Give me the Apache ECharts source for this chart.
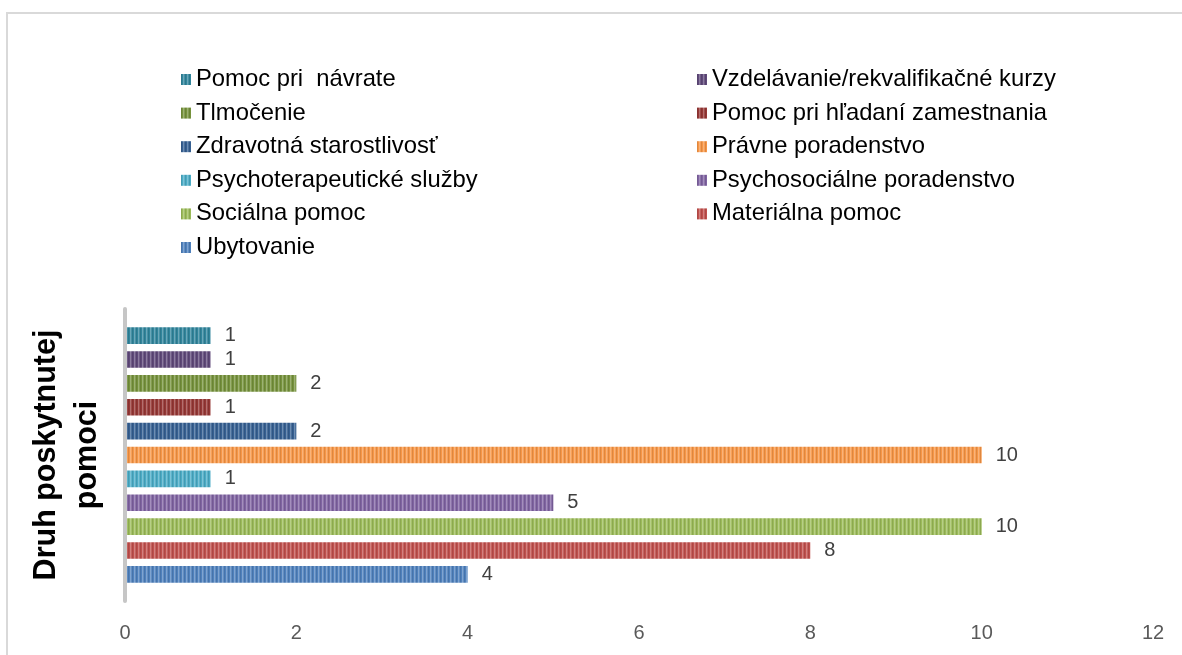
<!DOCTYPE html>
<html>
<head>
<meta charset="utf-8">
<script src="https://cdn.jsdelivr.net/npm/echarts@6/dist/echarts.min.js"></script>
<style>html,body{margin:0;padding:0;background:#fff}#c{width:1182px;height:655px}</style>
</head>
<body>
<div id="c"></div>
<script>
// Data (bottom to top)
const seriesNames = ['Ubytovanie','Materiálna pomoc','Sociálna pomoc','Psychosociálne poradenstvo','Psychoterapeutické služby','Právne poradenstvo','Zdravotná starostlivosť','Pomoc pri hľadaní zamestnania','Tlmočenie','Vzdelávanie/rekvalifikačné kurzy','Pomoc pri  návrate'];
const values = [4, 8, 10, 5, 1, 10, 2, 1, 2, 1, 1];
const categoryLabel = ['Druh poskytnutej pomoci'];
const xTicks = [0, 2, 4, 6, 8, 10, 12];
const legendLeft = ['Pomoc pri  návrate','Tlmočenie','Zdravotná starostlivosť','Psychoterapeutické služby','Sociálna pomoc','Ubytovanie'];
const legendRight = ['Vzdelávanie/rekvalifikačné kurzy','Pomoc pri hľadaní zamestnania','Právne poradenstvo','Psychosociálne poradenstvo','Materiálna pomoc'];
const colors = ['#4F81BD','#C0504D','#9BBB59','#8064A2','#4BACC6','#F79646','#366092','#953735','#76923C','#5F497A','#31859C'];

function mix(hex, target, t){
  const n = parseInt(hex.slice(1),16);
  const r=(n>>16)&255,g=(n>>8)&255,b=n&255;
  const m = c => Math.round(c + (target - c)*t);
  return 'rgb(' + m(r) + ',' + m(g) + ',' + m(b) + ')';
}
function pattern(hex){
  const cv = document.createElement('canvas');
  cv.width = 4; cv.height = 1;
  const ctx = cv.getContext('2d');
  const cols = [mix(hex,0,0.10), hex, mix(hex,255,0.28), mix(hex,255,0.10)];
  cols.forEach((c,i)=>{ctx.fillStyle=c;ctx.fillRect(i,0,1,1);});
  return {image: cv, repeat: 'repeat'};
}

const FONT = "'Liberation Sans', Arial, sans-serif";
const chart = echarts.init(document.getElementById('c'), null, {renderer:'canvas'});
const legendCommon = {
  orient: 'vertical', top: 62.5, itemWidth: 10, itemHeight: 11, itemGap: 9.6, icon: 'rect',
  textStyle: {fontFamily: FONT, fontSize: 23.8, color: '#000', lineHeight: 24}
};
// build series top-first so that ECharts places them as in the reference
const order = seriesNames.map((_, i) => i).reverse();
chart.setOption({
  animation: false,
  backgroundColor: '#fff',
  graphic: [{type:'rect', shape:{x:7, y:13, width:1300, height:800}, style:{fill:'none', stroke:'#d9d9d9', lineWidth:2}, z: -1}],
  legend: [
    Object.assign({left: 176, data: legendLeft}, legendCommon),
    Object.assign({left: 692, data: legendRight}, legendCommon)
  ],
  grid: {left: 125, right: 29, top: 309, bottom: 54, containLabel: false},
  xAxis: {
    type: 'value', min: xTicks[0], max: xTicks[xTicks.length-1], interval: 2,
    splitLine: {show: false}, axisLine: {show: false}, axisTick: {show: false},
    axisLabel: {fontFamily: FONT, fontSize: 20, color: '#595959', margin: 22}
  },
  yAxis: {
    type: 'category', data: categoryLabel, z: 5,
    axisLine: {show: true, lineStyle: {color: '#c6c6c6', width: 4}},
    axisTick: {show: false}, axisLabel: {show: false},
    name: 'Druh poskytnutej\npomoci', nameLocation: 'middle', nameRotate: 90, nameGap: 17,
    nameTextStyle: {fontFamily: FONT, fontSize: 30.5, fontWeight: 'bold', color: '#000', lineHeight: 41, align: 'center'}
  },
  series: order.map(i => ({
    type: 'bar', name: seriesNames[i], data: [values[i]],
    barWidth: 16.7, barGap: '43%',
    itemStyle: {color: pattern(colors[i])},
    label: {show: true, position: 'right', distance: 14, fontFamily: FONT, fontSize: 20, color: '#404040'}
  }))
});
</script>
</body>
</html>
